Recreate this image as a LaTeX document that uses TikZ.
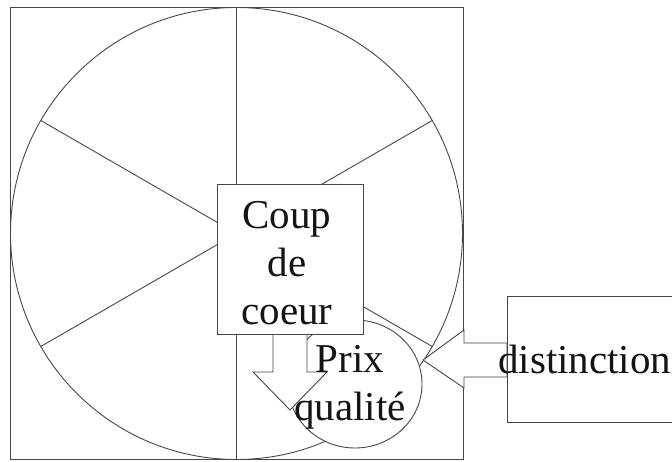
\documentclass[tikz,border=0pt]{standalone}
\usepackage{fontspec}
\setmainfont{Liberation Serif}
\usetikzlibrary{shapes.geometric}
\tikzset{
  ln/.style={draw=black!72, line width=0.9pt},
  panel/.style={ln, fill=white, inner sep=0pt, outer sep=0pt},
  lbl/.style={inner sep=0pt, font=\fontsize{41}{48}\selectfont, text=black!92},
}
\begin{document}
\begin{tikzpicture}[x=1pt, y=-1pt]
\useasboundingbox (0,0) rectangle (672,462);

% outer frame and the wheel with its six spokes
\node[ln, rectangle, minimum width=453, minimum height=452, inner sep=0pt, outer sep=0pt] (frame) at (236.5,233.5) {};
\node[ln, circle, minimum size=452, inner sep=0pt, outer sep=0pt] (wheel) at (236.5,233.5) {};
\foreach \a in {30,90,150,210,270,330}
  \draw[ln] (wheel.center) -- (wheel.\a);

% small disc for the second award
\node[panel, ellipse, minimum width=134, minimum height=128] (prix) at (355,384) {};

% block arrow pointing down from the central box
\draw[panel] (273,334) -- (273,372) -- (253,372) -- (290,410) -- (327,372) -- (307,372) -- (307,334) -- cycle;

% block arrow pointing left from the side box
\draw[panel] (507,343) -- (464,343) -- (464,330) -- (423,360) -- (464,388) -- (464,377) -- (507,377) -- cycle;

% central box and side box
\node[panel, minimum width=146, minimum height=150] (coup) at (290,259) {};
\node[panel, minimum width=183, minimum height=126] (dist) at (598.5,359) {};

% labels
\node[lbl, align=center, anchor=north] (coupt) at (287,201) {Coup\\de\\coeur};
\node[lbl, align=center, anchor=north] (prixt) at (350,345) {Prix\\qualité};
\node[lbl, anchor=base west] (distt) at (498,373) {distinction};
\end{tikzpicture}
\end{document}
